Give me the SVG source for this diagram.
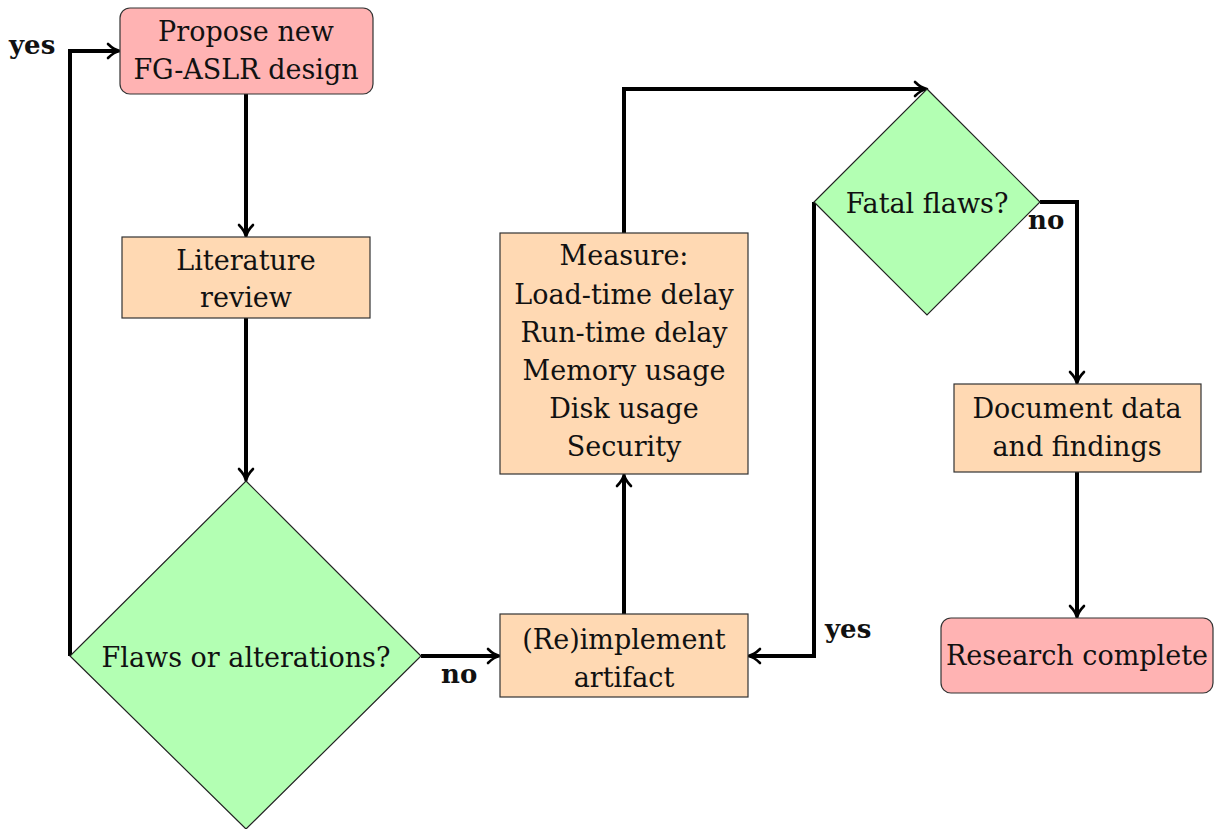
<svg xmlns="http://www.w3.org/2000/svg" width="1214" height="829" viewBox="0 0 1214 829">
<style>
text{font-family:"DejaVu Serif",serif;font-size:27px;fill:#111;text-anchor:middle}
.lbl{font-weight:bold;text-anchor:start;font-size:26px}
.term{fill:#FFB3B3;stroke:#333;stroke-width:1.2}
.proc{fill:#FFD9B3;stroke:#333;stroke-width:1.2}
.dec{fill:#B3FFB3;stroke:#222;stroke-width:1.2}
.edge{fill:none;stroke:#000;stroke-width:4;marker-end:url(#arr)}
</style>
<defs>
<marker id="arr" viewBox="0 0 16 18" refX="12" refY="9" markerWidth="16" markerHeight="18" markerUnits="userSpaceOnUse" orient="auto">
<path d="M2,2 Q8,8 14,9 Q8,10 2,16" fill="none" stroke="#000" stroke-width="2.6" stroke-linecap="round" stroke-linejoin="round"/>
</marker>
</defs>
<rect width="1214" height="829" fill="#fff"/>
<g id="connectors">
<path class="edge" d="M246,94 V235"/>
<path class="edge" d="M246,318 V479"/>
<path class="edge" d="M70,656 V51 H118"/>
<path class="edge" d="M421,656 H498"/>
<path class="edge" d="M624,614 V476"/>
<path class="edge" d="M624,233 V89 H925"/>
<path class="edge" d="M1040,202 H1077 V382"/>
<path class="edge" d="M814,202 V656 H750"/>
<path class="edge" d="M1077,472 V616"/>
<text class="lbl" x="9" y="54">yes</text>
<text class="lbl" x="441" y="683">no</text>
<text class="lbl" x="1028" y="229">no</text>
<text class="lbl" x="825" y="638">yes</text>
</g>
<g id="propose">
<rect class="term" x="120" y="8" width="253" height="86" rx="10"/>
<text x="246" y="41">Propose new</text>
<text x="246" y="79">FG-ASLR design</text>
</g>
<g id="literature">
<rect class="proc" x="122" y="237" width="248" height="81"/>
<text x="246" y="270">Literature</text>
<text x="246" y="307">review</text>
</g>
<g id="flaws">
<polygon class="dec" points="246,481 421,656 246,829 70,656"/>
<text x="246" y="667">Flaws or alterations?</text>
</g>
<g id="reimplement">
<rect class="proc" x="500" y="614" width="248" height="83"/>
<text x="624" y="649">(Re)implement</text>
<text x="624" y="687">artifact</text>
</g>
<g id="measure">
<rect class="proc" x="500" y="233" width="248" height="241"/>
<text x="624" y="265">Measure:</text>
<text x="624" y="304">Load-time delay</text>
<text x="624" y="342">Run-time delay</text>
<text x="624" y="380">Memory usage</text>
<text x="624" y="418">Disk usage</text>
<text x="624" y="456">Security</text>
</g>
<g id="fatal">
<polygon class="dec" points="927,89 1040,202 927,315 814,202"/>
<text x="927" y="213">Fatal flaws?</text>
</g>
<g id="document">
<rect class="proc" x="954" y="384" width="247" height="88"/>
<text x="1077" y="418">Document data</text>
<text x="1077" y="456">and findings</text>
</g>
<g id="complete">
<rect class="term" x="941" y="618" width="272" height="75" rx="10"/>
<text x="1077" y="665">Research complete</text>
</g>
</svg>
